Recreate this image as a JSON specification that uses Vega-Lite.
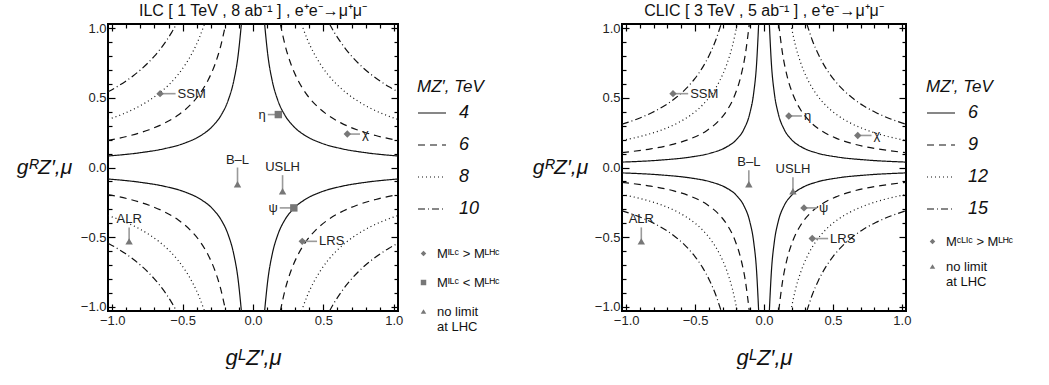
{
"$schema": "https://vega.github.io/schema/vega-lite/v6.json",
"padding": {"left": 15, "top": 1, "right": 0, "bottom": 0},
"datasets": {
"cL": [
{"m":"4","x":0.0825,"y":1.03,"nx":-0.0825,"ny":-1.03},
{"m":"4","x":0.1062,"y":0.8004,"nx":-0.1062,"ny":-0.8004},
{"m":"4","x":0.1367,"y":0.6218,"nx":-0.1367,"ny":-0.6218},
{"m":"4","x":0.176,"y":0.4831,"nx":-0.176,"ny":-0.4831},
{"m":"4","x":0.2265,"y":0.3753,"nx":-0.2265,"ny":-0.3753},
{"m":"4","x":0.2916,"y":0.2916,"nx":-0.2916,"ny":-0.2916},
{"m":"4","x":0.3753,"y":0.2265,"nx":-0.3753,"ny":-0.2265},
{"m":"4","x":0.4831,"y":0.176,"nx":-0.4831,"ny":-0.176},
{"m":"4","x":0.6218,"y":0.1367,"nx":-0.6218,"ny":-0.1367},
{"m":"4","x":0.8004,"y":0.1062,"nx":-0.8004,"ny":-0.1062},
{"m":"4","x":1.03,"y":0.0825,"nx":-1.03,"ny":-0.0825},
{"m":"6","x":0.1942,"y":1.03,"nx":-0.1942,"ny":-1.03},
{"m":"6","x":0.2294,"y":0.8717,"nx":-0.2294,"ny":-0.8717},
{"m":"6","x":0.2711,"y":0.7378,"nx":-0.2711,"ny":-0.7378},
{"m":"6","x":0.3203,"y":0.6244,"nx":-0.3203,"ny":-0.6244},
{"m":"6","x":0.3785,"y":0.5284,"nx":-0.3785,"ny":-0.5284},
{"m":"6","x":0.4472,"y":0.4472,"nx":-0.4472,"ny":-0.4472},
{"m":"6","x":0.5284,"y":0.3785,"nx":-0.5284,"ny":-0.3785},
{"m":"6","x":0.6244,"y":0.3203,"nx":-0.6244,"ny":-0.3203},
{"m":"6","x":0.7378,"y":0.2711,"nx":-0.7378,"ny":-0.2711},
{"m":"6","x":0.8717,"y":0.2294,"nx":-0.8717,"ny":-0.2294},
{"m":"6","x":1.03,"y":0.1942,"nx":-1.03,"ny":-0.1942},
{"m":"8","x":0.3447,"y":1.03,"nx":-0.3447,"ny":-1.03},
{"m":"8","x":0.3845,"y":0.9232,"nx":-0.3845,"ny":-0.9232},
{"m":"8","x":0.429,"y":0.8275,"nx":-0.429,"ny":-0.8275},
{"m":"8","x":0.4787,"y":0.7417,"nx":-0.4787,"ny":-0.7417},
{"m":"8","x":0.534,"y":0.6648,"nx":-0.534,"ny":-0.6648},
{"m":"8","x":0.5958,"y":0.5958,"nx":-0.5958,"ny":-0.5958},
{"m":"8","x":0.6648,"y":0.534,"nx":-0.6648,"ny":-0.534},
{"m":"8","x":0.7417,"y":0.4787,"nx":-0.7417,"ny":-0.4787},
{"m":"8","x":0.8275,"y":0.429,"nx":-0.8275,"ny":-0.429},
{"m":"8","x":0.9232,"y":0.3845,"nx":-0.9232,"ny":-0.3845},
{"m":"8","x":1.03,"y":0.3447,"nx":-1.03,"ny":-0.3447},
{"m":"10","x":0.5437,"y":1.03,"nx":-0.5437,"ny":-1.03},
{"m":"10","x":0.5796,"y":0.9663,"nx":-0.5796,"ny":-0.9663},
{"m":"10","x":0.6178,"y":0.9065,"nx":-0.6178,"ny":-0.9065},
{"m":"10","x":0.6586,"y":0.8503,"nx":-0.6586,"ny":-0.8503},
{"m":"10","x":0.702,"y":0.7977,"nx":-0.702,"ny":-0.7977},
{"m":"10","x":0.7483,"y":0.7483,"nx":-0.7483,"ny":-0.7483},
{"m":"10","x":0.7977,"y":0.702,"nx":-0.7977,"ny":-0.702},
{"m":"10","x":0.8503,"y":0.6586,"nx":-0.8503,"ny":-0.6586},
{"m":"10","x":0.9065,"y":0.6178,"nx":-0.9065,"ny":-0.6178},
{"m":"10","x":0.9663,"y":0.5796,"nx":-0.9663,"ny":-0.5796},
{"m":"10","x":1.03,"y":0.5437,"nx":-1.03,"ny":-0.5437}
],
"cR": [
{"m":"6","x":0.0388,"y":1.03,"nx":-0.0388,"ny":-1.03},
{"m":"6","x":0.0539,"y":0.7421,"nx":-0.0539,"ny":-0.7421},
{"m":"6","x":0.0748,"y":0.5347,"nx":-0.0748,"ny":-0.5347},
{"m":"6","x":0.1038,"y":0.3853,"nx":-0.1038,"ny":-0.3853},
{"m":"6","x":0.1441,"y":0.2776,"nx":-0.1441,"ny":-0.2776},
{"m":"6","x":0.2,"y":0.2,"nx":-0.2,"ny":-0.2},
{"m":"6","x":0.2776,"y":0.1441,"nx":-0.2776,"ny":-0.1441},
{"m":"6","x":0.3853,"y":0.1038,"nx":-0.3853,"ny":-0.1038},
{"m":"6","x":0.5347,"y":0.0748,"nx":-0.5347,"ny":-0.0748},
{"m":"6","x":0.7421,"y":0.0539,"nx":-0.7421,"ny":-0.0539},
{"m":"6","x":1.03,"y":0.0388,"nx":-1.03,"ny":-0.0388},
{"m":"9","x":0.1068,"y":1.03,"nx":-0.1068,"ny":-1.03},
{"m":"9","x":0.134,"y":0.8211,"nx":-0.134,"ny":-0.8211},
{"m":"9","x":0.168,"y":0.6546,"nx":-0.168,"ny":-0.6546},
{"m":"9","x":0.2108,"y":0.5219,"nx":-0.2108,"ny":-0.5219},
{"m":"9","x":0.2644,"y":0.416,"nx":-0.2644,"ny":-0.416},
{"m":"9","x":0.3317,"y":0.3317,"nx":-0.3317,"ny":-0.3317},
{"m":"9","x":0.416,"y":0.2644,"nx":-0.416,"ny":-0.2644},
{"m":"9","x":0.5219,"y":0.2108,"nx":-0.5219,"ny":-0.2108},
{"m":"9","x":0.6546,"y":0.168,"nx":-0.6546,"ny":-0.168},
{"m":"9","x":0.8211,"y":0.134,"nx":-0.8211,"ny":-0.134},
{"m":"9","x":1.03,"y":0.1068,"nx":-1.03,"ny":-0.1068},
{"m":"12","x":0.1942,"y":1.03,"nx":-0.1942,"ny":-1.03},
{"m":"12","x":0.2294,"y":0.8717,"nx":-0.2294,"ny":-0.8717},
{"m":"12","x":0.2711,"y":0.7378,"nx":-0.2711,"ny":-0.7378},
{"m":"12","x":0.3203,"y":0.6244,"nx":-0.3203,"ny":-0.6244},
{"m":"12","x":0.3785,"y":0.5284,"nx":-0.3785,"ny":-0.5284},
{"m":"12","x":0.4472,"y":0.4472,"nx":-0.4472,"ny":-0.4472},
{"m":"12","x":0.5284,"y":0.3785,"nx":-0.5284,"ny":-0.3785},
{"m":"12","x":0.6244,"y":0.3203,"nx":-0.6244,"ny":-0.3203},
{"m":"12","x":0.7378,"y":0.2711,"nx":-0.7378,"ny":-0.2711},
{"m":"12","x":0.8717,"y":0.2294,"nx":-0.8717,"ny":-0.2294},
{"m":"12","x":1.03,"y":0.1942,"nx":-1.03,"ny":-0.1942},
{"m":"15","x":0.3107,"y":1.03,"nx":-0.3107,"ny":-1.03},
{"m":"15","x":0.3503,"y":0.9137,"nx":-0.3503,"ny":-0.9137},
{"m":"15","x":0.3949,"y":0.8105,"nx":-0.3949,"ny":-0.8105},
{"m":"15","x":0.4451,"y":0.7189,"nx":-0.4451,"ny":-0.7189},
{"m":"15","x":0.5018,"y":0.6377,"nx":-0.5018,"ny":-0.6377},
{"m":"15","x":0.5657,"y":0.5657,"nx":-0.5657,"ny":-0.5657},
{"m":"15","x":0.6377,"y":0.5018,"nx":-0.6377,"ny":-0.5018},
{"m":"15","x":0.7189,"y":0.4451,"nx":-0.7189,"ny":-0.4451},
{"m":"15","x":0.8105,"y":0.3949,"nx":-0.8105,"ny":-0.3949},
{"m":"15","x":0.9137,"y":0.3503,"nx":-0.9137,"ny":-0.3503},
{"m":"15","x":1.03,"y":0.3107,"nx":-1.03,"ny":-0.3107}
],
"pL": [
{"n":"SSM","k":"gt","x":-0.66,"y":0.53,"lx":-0.55,"ly":0.53,"s":"r"},
{"n":"η","k":"lt","x":0.18,"y":0.38,"lx":0.105,"ly":0.38,"s":"l"},
{"n":"χ","k":"gt","x":0.67,"y":0.24,"lx":0.76,"ly":0.24,"s":"r"},
{"n":"B–L","k":"nl","x":-0.11,"y":-0.12,"lx":-0.11,"ly":0.0,"s":"t"},
{"n":"USLH","k":"nl","x":0.21,"y":-0.17,"lx":0.21,"ly":-0.055,"s":"t"},
{"n":"ψ","k":"lt","x":0.29,"y":-0.29,"lx":0.19,"ly":-0.29,"s":"l"},
{"n":"LRS","k":"gt","x":0.35,"y":-0.53,"lx":0.455,"ly":-0.53,"s":"r"},
{"n":"ALR","k":"nl","x":-0.88,"y":-0.53,"lx":-0.88,"ly":-0.43,"s":"t"}
],
"pR": [
{"n":"SSM","k":"gt","x":-0.66,"y":0.53,"lx":-0.55,"ly":0.53,"s":"r"},
{"n":"η","k":"gt","x":0.18,"y":0.37,"lx":0.275,"ly":0.37,"s":"r"},
{"n":"χ","k":"gt","x":0.68,"y":0.23,"lx":0.78,"ly":0.23,"s":"r"},
{"n":"B–L","k":"nl","x":-0.11,"y":-0.12,"lx":-0.11,"ly":-0.02,"s":"t"},
{"n":"USLH","k":"nl","x":0.21,"y":-0.17,"lx":0.21,"ly":-0.07,"s":"t"},
{"n":"ψ","k":"gt","x":0.29,"y":-0.29,"lx":0.385,"ly":-0.29,"s":"r"},
{"n":"LRS","k":"gt","x":0.35,"y":-0.51,"lx":0.465,"ly":-0.51,"s":"r"},
{"n":"ALR","k":"nl","x":-0.89,"y":-0.53,"lx":-0.89,"ly":-0.43,"s":"t"}
]
},
"hconcat": [
{
"width": 290, "height": 287,
"title": {"text": "ILC [ 1 TeV , 8 ab⁻¹ ] , e⁺e⁻→μ⁺μ⁻"},
"resolve": {"axis": {"x": "independent", "y": "independent"}},
"layer": [
{"data": {"name": "cL"}, "mark": {"type": "line", "color": "#111", "strokeWidth": 1.2, "interpolate": "monotone"},
 "encoding": {
  "x": {"field": "x", "type": "quantitative", "scale": {"domain": [-1.03, 1.03], "nice": false, "zero": false},
   "axis": {"orient": "bottom", "values": [-1,-0.9,-0.8,-0.7,-0.6,-0.5,-0.4,-0.3,-0.2,-0.1,0,0.1,0.2,0.3,0.4,0.5,0.6,0.7,0.8,0.9,1], "labelExpr": "abs(datum.value*2-round(datum.value*2))<0.01 ? format(datum.value,'.1f') : ''", "tickSize": {"condition": {"test": "abs(datum.value*2-round(datum.value*2))<0.01", "value": -7}, "value": -4}, "labelPadding": 10, "title": "gᴸZ′,μ", "titleFontSize": 22, "titleFontStyle": "italic", "titleFontWeight": "normal", "titlePadding": 20}},
  "y": {"field": "y", "type": "quantitative", "scale": {"domain": [-1.03, 1.03], "nice": false, "zero": false},
   "axis": {"orient": "left", "values": [-1,-0.9,-0.8,-0.7,-0.6,-0.5,-0.4,-0.3,-0.2,-0.1,0,0.1,0.2,0.3,0.4,0.5,0.6,0.7,0.8,0.9,1], "labelExpr": "abs(datum.value*2-round(datum.value*2))<0.01 ? format(datum.value,'.1f') : ''", "tickSize": {"condition": {"test": "abs(datum.value*2-round(datum.value*2))<0.01", "value": -7}, "value": -4}, "labelPadding": 9, "title": "gᴿZ′,μ", "titleAngle": 0, "titleX": -64, "titleY": 143, "titleAlign": "center", "titleBaseline": "middle", "titleFontSize": 21, "titleFontStyle": "italic", "titleFontWeight": "normal"}},
  "strokeDash": {"field": "m", "type": "nominal", "scale": {"domain": ["4","6","8","10"], "range": [[1,0],[7,5],[1,3],[7,3,1,3]]},
   "legend": {"orient": "none", "legendX": 309, "legendY": 55, "title": "MZ′, TeV", "titleFontSize": 17, "titleFontStyle": "italic", "titleFontWeight": "normal", "titleColor": "#111", "titlePadding": 2, "labelFontSize": 18, "labelFontStyle": "italic", "labelColor": "#111", "symbolType": "stroke", "symbolSize": 784, "symbolStrokeWidth": 1.2, "symbolStrokeColor": "#111", "labelOffset": 12, "rowPadding": 8}}
 }},
{"data": {"name": "cL"}, "mark": {"type": "line", "color": "#111", "strokeWidth": 1.2, "interpolate": "monotone"},
 "encoding": {
  "x": {"field": "nx", "type": "quantitative", "scale": {"domain": [-1.03, 1.03], "nice": false, "zero": false},
   "axis": {"orient": "top", "values": [-1,-0.9,-0.8,-0.7,-0.6,-0.5,-0.4,-0.3,-0.2,-0.1,0,0.1,0.2,0.3,0.4,0.5,0.6,0.7,0.8,0.9,1], "labels": false, "tickSize": {"condition": {"test": "abs(datum.value*2-round(datum.value*2))<0.01", "value": -7}, "value": -4}, "title": null}},
  "y": {"field": "y", "type": "quantitative", "scale": {"domain": [-1.03, 1.03], "nice": false, "zero": false},
   "axis": {"orient": "right", "values": [-1,-0.9,-0.8,-0.7,-0.6,-0.5,-0.4,-0.3,-0.2,-0.1,0,0.1,0.2,0.3,0.4,0.5,0.6,0.7,0.8,0.9,1], "labels": false, "tickSize": {"condition": {"test": "abs(datum.value*2-round(datum.value*2))<0.01", "value": -7}, "value": -4}, "title": null}},
  "strokeDash": {"field": "m", "type": "nominal", "scale": {"domain": ["4","6","8","10"], "range": [[1,0],[7,5],[1,3],[7,3,1,3]]}}
 }},
{"data": {"name": "cL"}, "mark": {"type": "line", "color": "#111", "strokeWidth": 1.2, "interpolate": "monotone"},
 "encoding": {
  "x": {"field": "x", "type": "quantitative", "scale": {"domain": [-1.03, 1.03], "nice": false, "zero": false}, "axis": null},
  "y": {"field": "ny", "type": "quantitative", "scale": {"domain": [-1.03, 1.03], "nice": false, "zero": false}, "axis": null},
  "strokeDash": {"field": "m", "type": "nominal", "scale": {"domain": ["4","6","8","10"], "range": [[1,0],[7,5],[1,3],[7,3,1,3]]}}
 }},
{"data": {"name": "cL"}, "mark": {"type": "line", "color": "#111", "strokeWidth": 1.2, "interpolate": "monotone"},
 "encoding": {
  "x": {"field": "nx", "type": "quantitative", "scale": {"domain": [-1.03, 1.03], "nice": false, "zero": false}, "axis": null},
  "y": {"field": "ny", "type": "quantitative", "scale": {"domain": [-1.03, 1.03], "nice": false, "zero": false}, "axis": null},
  "strokeDash": {"field": "m", "type": "nominal", "scale": {"domain": ["4","6","8","10"], "range": [[1,0],[7,5],[1,3],[7,3,1,3]]}}
 }},
{"data": {"name": "pL"}, "mark": {"type": "rule", "color": "#9a9a9a", "strokeWidth": 1.6},
 "encoding": {
  "x": {"field": "x", "type": "quantitative", "scale": {"domain": [-1.03, 1.03], "nice": false, "zero": false}, "axis": null},
  "y": {"field": "y", "type": "quantitative", "scale": {"domain": [-1.03, 1.03], "nice": false, "zero": false}, "axis": null},
  "x2": {"field": "lx"}, "y2": {"field": "ly"}
 }},
{"data": {"name": "pL"}, "mark": {"type": "point", "filled": true, "color": "#777777", "size": 55, "opacity": 1},
 "encoding": {
  "x": {"field": "x", "type": "quantitative", "scale": {"domain": [-1.03, 1.03], "nice": false, "zero": false}, "axis": null},
  "y": {"field": "y", "type": "quantitative", "scale": {"domain": [-1.03, 1.03], "nice": false, "zero": false}, "axis": null},
  "shape": {"field": "k", "type": "nominal", "scale": {"domain": ["gt","lt","nl"], "range": ["diamond","square","triangle-up"]},
   "legend": {"orient": "none", "legendX": 309, "legendY": 223, "title": null, "labelExpr": "datum.value=='gt' ? 'Mᴵᴸᶜ > Mᴸᴴᶜ' : datum.value=='lt' ? 'Mᴵᴸᶜ < Mᴸᴴᶜ' : ['no limit','at LHC']", "labelFontSize": 13, "labelColor": "#111", "symbolSize": 30, "symbolFillColor": "#777777", "symbolStrokeColor": "#777777", "symbolStrokeWidth": 0, "rowPadding": 15, "labelOffset": 7}}
 }},
{"data": {"name": "pL"}, "transform": [{"filter": "datum.s=='r'"}], "mark": {"type": "text", "align": "left", "baseline": "middle", "dx": 2, "fontSize": 13, "color": "#222"},
 "encoding": {
  "x": {"field": "lx", "type": "quantitative", "scale": {"domain": [-1.03, 1.03], "nice": false, "zero": false}, "axis": null},
  "y": {"field": "ly", "type": "quantitative", "scale": {"domain": [-1.03, 1.03], "nice": false, "zero": false}, "axis": null},
  "text": {"field": "n"}
 }},
{"data": {"name": "pL"}, "transform": [{"filter": "datum.s=='l'"}], "mark": {"type": "text", "align": "right", "baseline": "middle", "dx": -2, "fontSize": 13, "color": "#222"},
 "encoding": {
  "x": {"field": "lx", "type": "quantitative", "scale": {"domain": [-1.03, 1.03], "nice": false, "zero": false}, "axis": null},
  "y": {"field": "ly", "type": "quantitative", "scale": {"domain": [-1.03, 1.03], "nice": false, "zero": false}, "axis": null},
  "text": {"field": "n"}
 }},
{"data": {"name": "pL"}, "transform": [{"filter": "datum.s=='t'"}], "mark": {"type": "text", "align": "center", "baseline": "bottom", "dy": -1, "fontSize": 13, "color": "#222"},
 "encoding": {
  "x": {"field": "lx", "type": "quantitative", "scale": {"domain": [-1.03, 1.03], "nice": false, "zero": false}, "axis": null},
  "y": {"field": "ly", "type": "quantitative", "scale": {"domain": [-1.03, 1.03], "nice": false, "zero": false}, "axis": null},
  "text": {"field": "n"}
 }}
]
},
{
"width": 284, "height": 287,
"title": {"text": "CLIC [ 3 TeV , 5 ab⁻¹ ] , e⁺e⁻→μ⁺μ⁻"},
"resolve": {"axis": {"x": "independent", "y": "independent"}},
"layer": [
{"data": {"name": "cR"}, "mark": {"type": "line", "color": "#111", "strokeWidth": 1.2, "interpolate": "monotone"},
 "encoding": {
  "x": {"field": "x", "type": "quantitative", "scale": {"domain": [-1.03, 1.03], "nice": false, "zero": false},
   "axis": {"orient": "bottom", "values": [-1,-0.9,-0.8,-0.7,-0.6,-0.5,-0.4,-0.3,-0.2,-0.1,0,0.1,0.2,0.3,0.4,0.5,0.6,0.7,0.8,0.9,1], "labelExpr": "abs(datum.value*2-round(datum.value*2))<0.01 ? format(datum.value,'.1f') : ''", "tickSize": {"condition": {"test": "abs(datum.value*2-round(datum.value*2))<0.01", "value": -7}, "value": -4}, "labelPadding": 10, "title": "gᴸZ′,μ", "titleFontSize": 22, "titleFontStyle": "italic", "titleFontWeight": "normal", "titlePadding": 20}},
  "y": {"field": "y", "type": "quantitative", "scale": {"domain": [-1.03, 1.03], "nice": false, "zero": false},
   "axis": {"orient": "left", "values": [-1,-0.9,-0.8,-0.7,-0.6,-0.5,-0.4,-0.3,-0.2,-0.1,0,0.1,0.2,0.3,0.4,0.5,0.6,0.7,0.8,0.9,1], "labelExpr": "abs(datum.value*2-round(datum.value*2))<0.01 ? format(datum.value,'.1f') : ''", "tickSize": {"condition": {"test": "abs(datum.value*2-round(datum.value*2))<0.01", "value": -7}, "value": -4}, "labelPadding": 9, "title": "gᴿZ′,μ", "titleAngle": 0, "titleX": -62, "titleY": 143, "titleAlign": "center", "titleBaseline": "middle", "titleFontSize": 21, "titleFontStyle": "italic", "titleFontWeight": "normal"}},
  "strokeDash": {"field": "m", "type": "nominal", "scale": {"domain": ["6","9","12","15"], "range": [[1,0],[7,5],[1,3],[7,3,1,3]]},
   "legend": {"orient": "none", "legendX": 304, "legendY": 55, "title": "MZ′, TeV", "titleFontSize": 17, "titleFontStyle": "italic", "titleFontWeight": "normal", "titleColor": "#111", "titlePadding": 2, "labelFontSize": 18, "labelFontStyle": "italic", "labelColor": "#111", "symbolType": "stroke", "symbolSize": 784, "symbolStrokeWidth": 1.2, "symbolStrokeColor": "#111", "labelOffset": 12, "rowPadding": 8}}
 }},
{"data": {"name": "cR"}, "mark": {"type": "line", "color": "#111", "strokeWidth": 1.2, "interpolate": "monotone"},
 "encoding": {
  "x": {"field": "nx", "type": "quantitative", "scale": {"domain": [-1.03, 1.03], "nice": false, "zero": false},
   "axis": {"orient": "top", "values": [-1,-0.9,-0.8,-0.7,-0.6,-0.5,-0.4,-0.3,-0.2,-0.1,0,0.1,0.2,0.3,0.4,0.5,0.6,0.7,0.8,0.9,1], "labels": false, "tickSize": {"condition": {"test": "abs(datum.value*2-round(datum.value*2))<0.01", "value": -7}, "value": -4}, "title": null}},
  "y": {"field": "y", "type": "quantitative", "scale": {"domain": [-1.03, 1.03], "nice": false, "zero": false},
   "axis": {"orient": "right", "values": [-1,-0.9,-0.8,-0.7,-0.6,-0.5,-0.4,-0.3,-0.2,-0.1,0,0.1,0.2,0.3,0.4,0.5,0.6,0.7,0.8,0.9,1], "labels": false, "tickSize": {"condition": {"test": "abs(datum.value*2-round(datum.value*2))<0.01", "value": -7}, "value": -4}, "title": null}},
  "strokeDash": {"field": "m", "type": "nominal", "scale": {"domain": ["6","9","12","15"], "range": [[1,0],[7,5],[1,3],[7,3,1,3]]}}
 }},
{"data": {"name": "cR"}, "mark": {"type": "line", "color": "#111", "strokeWidth": 1.2, "interpolate": "monotone"},
 "encoding": {
  "x": {"field": "x", "type": "quantitative", "scale": {"domain": [-1.03, 1.03], "nice": false, "zero": false}, "axis": null},
  "y": {"field": "ny", "type": "quantitative", "scale": {"domain": [-1.03, 1.03], "nice": false, "zero": false}, "axis": null},
  "strokeDash": {"field": "m", "type": "nominal", "scale": {"domain": ["6","9","12","15"], "range": [[1,0],[7,5],[1,3],[7,3,1,3]]}}
 }},
{"data": {"name": "cR"}, "mark": {"type": "line", "color": "#111", "strokeWidth": 1.2, "interpolate": "monotone"},
 "encoding": {
  "x": {"field": "nx", "type": "quantitative", "scale": {"domain": [-1.03, 1.03], "nice": false, "zero": false}, "axis": null},
  "y": {"field": "ny", "type": "quantitative", "scale": {"domain": [-1.03, 1.03], "nice": false, "zero": false}, "axis": null},
  "strokeDash": {"field": "m", "type": "nominal", "scale": {"domain": ["6","9","12","15"], "range": [[1,0],[7,5],[1,3],[7,3,1,3]]}}
 }},
{"data": {"name": "pR"}, "mark": {"type": "rule", "color": "#9a9a9a", "strokeWidth": 1.6},
 "encoding": {
  "x": {"field": "x", "type": "quantitative", "scale": {"domain": [-1.03, 1.03], "nice": false, "zero": false}, "axis": null},
  "y": {"field": "y", "type": "quantitative", "scale": {"domain": [-1.03, 1.03], "nice": false, "zero": false}, "axis": null},
  "x2": {"field": "lx"}, "y2": {"field": "ly"}
 }},
{"data": {"name": "pR"}, "mark": {"type": "point", "filled": true, "color": "#777777", "size": 55, "opacity": 1},
 "encoding": {
  "x": {"field": "x", "type": "quantitative", "scale": {"domain": [-1.03, 1.03], "nice": false, "zero": false}, "axis": null},
  "y": {"field": "y", "type": "quantitative", "scale": {"domain": [-1.03, 1.03], "nice": false, "zero": false}, "axis": null},
  "shape": {"field": "k", "type": "nominal", "scale": {"domain": ["gt","nl"], "range": ["diamond","triangle-up"]},
   "legend": {"orient": "none", "legendX": 304, "legendY": 211, "title": null, "labelExpr": "datum.value=='gt' ? 'Mᶜᴸᴵᶜ > Mᴸᴴᶜ' : ['no limit','at LHC']", "labelFontSize": 13, "labelColor": "#111", "symbolSize": 30, "symbolFillColor": "#777777", "symbolStrokeColor": "#777777", "symbolStrokeWidth": 0, "rowPadding": 11, "labelOffset": 7}}
 }},
{"data": {"name": "pR"}, "transform": [{"filter": "datum.s=='r'"}], "mark": {"type": "text", "align": "left", "baseline": "middle", "dx": 2, "fontSize": 13, "color": "#222"},
 "encoding": {
  "x": {"field": "lx", "type": "quantitative", "scale": {"domain": [-1.03, 1.03], "nice": false, "zero": false}, "axis": null},
  "y": {"field": "ly", "type": "quantitative", "scale": {"domain": [-1.03, 1.03], "nice": false, "zero": false}, "axis": null},
  "text": {"field": "n"}
 }},
{"data": {"name": "pR"}, "transform": [{"filter": "datum.s=='t'"}], "mark": {"type": "text", "align": "center", "baseline": "bottom", "dy": -1, "fontSize": 13, "color": "#222"},
 "encoding": {
  "x": {"field": "lx", "type": "quantitative", "scale": {"domain": [-1.03, 1.03], "nice": false, "zero": false}, "axis": null},
  "y": {"field": "ly", "type": "quantitative", "scale": {"domain": [-1.03, 1.03], "nice": false, "zero": false}, "axis": null},
  "text": {"field": "n"}
 }}
]
}
],
"spacing": 30,
"resolve": {"scale": {"x": "independent", "y": "independent", "strokeDash": "independent", "shape": "independent"}, "legend": {"strokeDash": "independent", "shape": "independent"}},
"config": {
 "font": "Liberation Sans",
 "view": {"stroke": "#000", "strokeWidth": 2},
 "axis": {"domain": false, "grid": false, "tickColor": "#000", "tickWidth": 1.2, "labelFontSize": 13, "labelColor": "#222", "labelFont": "Liberation Sans", "titleFont": "Liberation Sans", "titleColor": "#111"},
 "legend": {"labelFont": "Liberation Sans", "titleFont": "Liberation Sans"},
 "title": {"fontSize": 16, "fontWeight": "normal", "color": "#111", "offset": 3, "font": "Liberation Sans"}
}
}
